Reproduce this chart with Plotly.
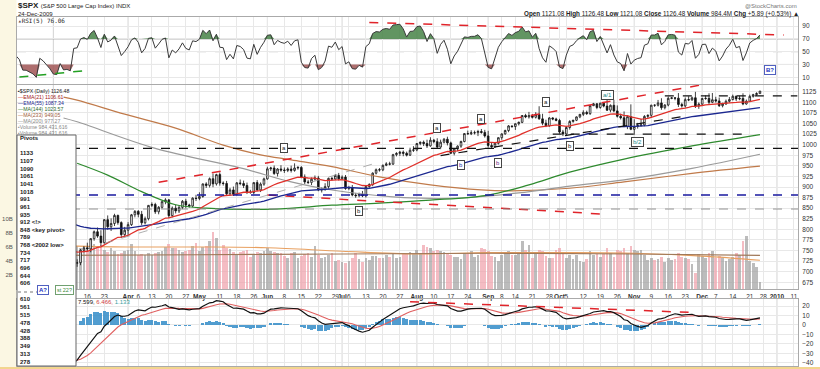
import numpy as np
import pandas as pd
import plotly.graph_objects as go

W, H = 820, 369
ML, MR = 17, 22

HOLIDAYS = ["2009-01-19", "2009-02-16", "2009-04-10", "2009-05-25", "2009-07-03",
            "2009-09-07", "2009-11-26", "2009-12-25", "2010-01-01", "2010-01-18"]

# ---- daily closes 2009 ----
CLOSE_JAN = [931.80, 927.45, 934.70, 906.65, 909.73, 890.35, 870.26, 871.79, 842.62, 843.74,
             850.12, 805.22, 840.24, 827.50, 831.95, 836.57, 845.71, 874.09, 845.14, 825.88]
CLOSE_FEB = [825.44, 838.51, 832.23, 845.85, 868.60, 869.89, 827.16, 833.74, 835.19, 826.84,
             789.17, 788.42, 778.94, 770.05, 743.33, 773.14, 764.90, 752.83, 735.09]
CLOSE_MAR = [700.82, 696.33, 712.87, 682.55, 683.38, 676.53, 719.60, 721.36, 750.74, 756.55,
             753.89, 778.12, 794.35, 784.04, 768.54, 822.92, 806.12, 813.88, 832.86, 815.94,
             787.53, 797.87]
CLOSE_APR = [811.08, 834.38, 842.50, 835.48, 815.55, 825.16, 856.56, 858.73, 841.50, 852.06,
             865.30, 869.60, 832.39, 850.08, 843.55, 851.92, 866.23, 857.51, 855.16, 873.64, 872.81]
CLOSE_MAY = [877.52, 907.24, 903.80, 919.53, 907.39, 929.23, 909.24, 908.35, 883.92, 893.07,
             882.88, 909.71, 908.13, 903.47, 888.33, 887.00, 910.33, 893.06, 906.83, 919.14]
CLOSE_JUN = [942.87, 944.74, 931.76, 942.46, 940.09, 939.14, 942.43, 939.15, 944.89, 946.21,
             923.72, 911.97, 910.71, 918.37, 921.23, 893.04, 895.10, 900.94, 920.26, 918.90,
             927.23, 919.32]
CLOSE_JUL = [923.33, 896.42, 898.72, 881.03, 879.56, 882.68, 879.13, 901.05, 905.84, 932.68,
             940.74, 940.38, 951.13, 954.58, 954.07, 976.29, 979.26, 982.18, 979.62, 975.15,
             986.75, 987.48]
CLOSE_AUG = [1002.63, 1005.65, 1002.72, 997.08, 1010.48, 1007.10, 994.35, 1005.81, 1012.73, 1004.09,
             979.73, 989.67, 996.46, 1007.37, 1026.13, 1025.57, 1028.00, 1028.12, 1030.98, 1028.93,
             1020.62]
CLOSE_SEP = [998.04, 994.75, 1003.24, 1016.40, 1025.39, 1033.37, 1044.14, 1042.73, 1049.34, 1052.63,
             1068.76, 1065.49, 1068.30, 1064.66, 1071.66, 1060.87, 1050.78, 1044.38, 1062.98, 1060.61,
             1057.08]
CLOSE_OCT = [1029.85, 1025.21, 1040.46, 1054.72, 1057.58, 1065.48, 1071.49, 1076.19, 1073.19, 1092.02,
             1096.56, 1087.68, 1097.91, 1091.06, 1081.40, 1092.91, 1079.60, 1066.95, 1063.41, 1042.63,
             1066.11, 1036.19]
CLOSE_NOV = [1042.88, 1045.41, 1046.50, 1066.63, 1069.30, 1093.08, 1093.01, 1098.51, 1087.24, 1093.48,
             1109.30, 1110.32, 1109.80, 1094.90, 1091.38, 1106.24, 1105.65, 1110.63, 1091.49, 1095.63]
CLOSE_DEC = [1108.86, 1109.24, 1099.92, 1105.98, 1103.25, 1091.94, 1095.95, 1102.35, 1106.41, 1114.11,
             1107.93, 1109.18, 1096.08, 1102.47, 1114.05, 1118.02, 1120.59, 1126.48]

# ---- candle wicks (points above body / below body), Mar 2 .. Dec 24 ----
WICK_UP = [8, 10, 12, 7, 9, 6, 2, 8, 3, 4, 12, 1, 3, 10, 14, 1, 10, 12, 4, 2, 3, 8, 6, 2, 3,
           3, 8, 5, 1, 5, 4, 3, 2, 4, 2, 4, 8, 5, 3, 6, 3, 2, 8, 10, 1, 4, 3, 12, 2, 5, 4, 6, 5, 8,
           2, 8, 7, 7, 5, 1, 6, 4, 3, 5, 3, 6, 2, 9, 6, 4, 8, 11, 3, 3, 6, 5, 4, 6, 5, 4, 8, 2, 4,
           3, 6, 4, 5, 4, 6, 5, 4, 8, 2, 3, 2, 3, 4, 2, 4, 5, 2, 3, 3, 4, 4, 6, 9, 1, 2, 4, 9, 7,
           3, 8, 6, 3, 6, 3, 1, 2, 2, 1, 7, 6, 5, 4, 6, 6, 12, 6, 1, 1, 1, 2, 2, 1, 1, 2, 1, 4, 9,
           4, 5, 19, 12, 8, 2, 2, 3, 4, 5, 3, 3, 1, 1, 1, 5, 4, 1, 2, 1, 1, 2, 19, 2, 13, 13, 6, 15,
           1, 29, 17, 6, 14, 3, 2, 1, 2, 7, 11, 2, 4, 2, 2, 12, 4, 5, 8, 3, 14, 4, 2, 7, 12, 16, 7,
           8, 3, 4, 6, 4, 2, 6, 12, 4, 4, 2, 3, 0]
WICK_DN = [12, 9, 8, 14, 17, 10, 5, 8, 6, 5, 6, 8, 5, 4, 8, 3, 7, 10, 6, 5, 8, 6, 12, 3, 6,
           7, 6, 4, 4, 4, 5, 6, 3, 6, 6, 4, 6, 5, 4, 8, 4, 3, 6, 4, 3, 6, 5, 8, 4, 6, 5, 4, 5, 4,
           3, 4, 6, 5, 3, 4, 3, 5, 4, 2, 5, 3, 7, 4, 6, 4, 5, 3, 4, 3, 5, 4, 6, 3, 3, 6, 4, 5, 4,
           2, 4, 3, 3, 4, 3, 5, 4, 3, 4, 3, 4, 3, 4, 3, 2, 3, 2, 4, 6, 7, 3, 2, 4, 3, 4, 6, 5, 2,
           4, 3, 5, 3, 6, 2, 5, 5, 4, 2, 2, 3, 4, 8, 3, 4, 5, 3, 2, 3, 5, 2, 4, 3, 8, 4, 2, 3, 4,
           3, 3, 2, 5, 3, 2, 3, 2, 4, 5, 4, 5, 3, 2, 3, 4, 3, 3, 1, 4, 3, 3, 2, 5, 3, 3, 4, 1, 6,
           2, 13, 5, 3, 3, 4, 6, 4, 3, 5, 4, 3, 2, 5, 6, 4, 4, 3, 2, 5, 7, 2, 3, 5, 2, 4, 3, 4, 2,
           3, 2, 5, 3, 3, 2, 2, 3, 3, 0]

# ---- volume (billions), Mar 2 .. Dec 24 ----
VOLUME_B = [5.8, 6.1, 6.4, 6.6, 6.6, 6.0, 6.3, 6.2, 5.8, 5.9, 5.5, 5.9, 6.4, 6.0, 6.3,
            5.6, 5.3, 5.8, 5.5, 5.0, 5.2, 5.5, 5.6, 6.4, 5.4, 4.9, 5.0, 4.8, 5.2,
            4.8, 5.1, 5.3, 5.5, 6.0, 6.5, 5.8, 5.9, 5.6, 5.3, 5.4, 5.6, 6.2, 6.6, 5.4,
            6.0, 6.1, 6.8, 8.2, 7.3, 5.6, 6.3, 5.9, 5.7, 5.3, 4.9, 5.3, 5.4, 5.6, 4.6,
            4.9, 5.3, 5.2, 5.5, 5.8, 5.5, 5.3, 5.2, 5.1, 4.7, 4.4, 5.1, 5.3, 4.5,
            4.7, 5.0, 5.2, 4.6, 6.2, 4.8, 4.5, 4.6, 4.8, 5.2, 4.0, 4.2, 3.9, 3.7,
            4.0, 4.4, 5.1, 4.3, 3.9, 4.5, 4.1, 4.7, 4.7, 4.5, 4.5, 4.9, 4.6, 5.0, 4.4,
            4.6, 5.2, 5.0, 5.3, 5.0, 5.6, 5.2, 6.3, 6.0, 5.8, 5.4, 5.6, 5.5, 5.3, 5.0,
            4.9, 4.6, 4.6, 4.3, 5.1, 5.0, 5.4, 4.6, 4.9, 5.8, 5.7, 5.4, 4.7, 4.6, 4.0,
            4.8, 5.2, 5.4, 4.9, 4.9, 5.1, 6.8, 5.6, 6.3, 4.4, 5.2, 5.6, 5.4, 4.7,
            4.4, 4.4, 5.6, 5.8, 5.2, 4.5, 4.8, 4.3, 4.8, 4.0, 3.9, 4.3, 5.4, 4.9, 5.0,
            4.6, 5.0, 5.8, 5.2, 4.6, 5.6, 5.5, 5.8, 5.2, 6.1, 5.6, 5.5, 5.6, 4.9, 4.2,
            4.4, 4.2, 4.3, 4.6, 3.8, 4.5, 4.2, 4.3, 5.2, 4.6, 4.4, 4.3, 3.6, 2.3,
            5.0, 4.7, 4.5, 5.1, 5.4, 4.4, 4.7, 4.5, 4.0, 4.3, 4.6, 5.1, 4.9, 6.8, 7.5,
            4.0, 3.7, 3.2, 0.98]

# ---- moving averages (date, value) ----
MA233_PTS = [("2009-03-05", 1112), ("2009-03-11", 1105), ("2009-03-31", 1072), ("2009-04-22", 1039),
             ("2009-05-12", 999), ("2009-05-28", 976), ("2009-06-10", 964), ("2009-06-26", 948),
             ("2009-07-17", 924), ("2009-08-07", 905), ("2009-08-28", 893), ("2009-09-11", 891),
             ("2009-10-06", 897), ("2009-10-28", 912), ("2009-11-25", 932), ("2009-12-24", 949.05)]
MA200_PTS = [("2009-03-05", 1063), ("2009-03-11", 1054), ("2009-04-14", 991), ("2009-05-19", 945),
             ("2009-06-10", 912), ("2009-06-26", 893), ("2009-07-24", 876), ("2009-08-07", 873),
             ("2009-08-20", 874), ("2009-09-15", 886), ("2009-10-06", 902), ("2009-10-28", 917),
             ("2009-11-25", 944), ("2009-12-24", 977.27)]
MA144_PTS = [("2009-03-11", 956), ("2009-03-24", 928), ("2009-04-07", 889), ("2009-04-22", 858),
             ("2009-05-05", 850), ("2009-06-03", 848), ("2009-06-26", 857), ("2009-07-17", 862),
             ("2009-08-07", 869), ("2009-09-01", 881), ("2009-09-18", 905), ("2009-10-06", 935),
             ("2009-10-28", 966), ("2009-11-25", 997), ("2009-12-24", 1023.57)]
VOLMA_FAST_PTS = [("2009-03-02", 6.2), ("2009-04-01", 6.0), ("2009-05-01", 6.0), ("2009-06-01", 5.9),
                  ("2009-07-01", 5.4), ("2009-08-03", 5.0), ("2009-09-01", 5.2), ("2009-10-01", 5.2),
                  ("2009-11-02", 5.1), ("2009-12-01", 4.7), ("2009-12-24", 4.1)]
VOLMA_SLOW_PTS = [("2009-03-02", 4.8), ("2009-05-01", 4.9), ("2009-07-01", 5.0), ("2009-09-01", 5.1),
                  ("2009-11-02", 5.0), ("2009-12-24", 4.8)]

# ---- hand-drawn annotation lines (date, value) ----
PRICE_LINES = [  # (start, end, color, dash, width)
    (("2009-04-15", 911), ("2009-12-09", 1150), "#e0242a", "dash", 1.5),
    (("2009-06-01", 881), ("2009-10-20", 836), "#e0242a", "dash", 1.5),
    (("2009-03-23", 767), ("2009-07-17", 959), "#9a9a9a", "dash", 0.8),
    (("2009-08-12", 974), ("2009-11-20", 1066), "#111111", "dash", 1.2),
    (("2009-09-29", 1025), ("2009-12-17", 1025), "#111111", "dash", 1.2),
    (("2009-11-13", 1115), ("2010-01-12", 1115), "#111111", "dash", 1.2),
]
PRICE_HLINES = [(991, "#111111", 1.3), (881, "#1a1aa0", 1.5), (848, "#888888", 0.9)]
RSI_LINES = [(("2009-07-14", 95.7), ("2010-01-06", 76.1), "#e0242a"),
             (("2009-02-13", 10.4), ("2009-03-16", 20.6), "#22a022")]
MACD_LINES = [(("2009-07-30", 24.6), ("2009-11-24", 13.4), "#e0242a")]
LABELS = [("2009-06-08", 993, "a", "#222"), ("2009-08-11", 1040, "a", "#222"),
          ("2009-08-28", 1061, "a", "#222"), ("2009-09-25", 1100, "a", "#222"),
          ("2009-10-21", 1117, "a/1", "#1a8a8a"), ("2009-08-20", 952, "b", "#2a2aa0"),
          ("2009-09-04", 956, "b", "#6a2a8a"), ("2009-07-09", 843, "b", "#222"),
          ("2009-10-06", 997, "b", "#222"), ("2009-11-03", 1007, "b/2", "#1a8a8a")]

PIVOTS_TOP = ["1133", "1107", "1090", "1061", "1041", "1018", "991", "961", "935", "912 &lt;!&gt;",
              "848 &lt;key pivot&gt;", "789", "768 &lt;2002 low&gt;", "734", "717", "696", "644", "606"]
PIVOTS_BOTTOM = ["610", "561", "515", "478", "428", "388", "349", "313", "278"]

TICKS = [("2009-03-16", "16"), ("2009-03-23", "23"), ("2009-04-01", "<b>Apr</b>"), ("2009-04-06", "6"),
         ("2009-04-13", "13"), ("2009-04-20", "20"), ("2009-04-27", "27"), ("2009-05-01", "<b>May</b>"),
         ("2009-05-11", "11"), ("2009-05-18", "18"), ("2009-05-26", "26"), ("2009-06-01", "<b>Jun</b>"),
         ("2009-06-08", "8"), ("2009-06-15", "15"), ("2009-06-22", "22"), ("2009-06-29", "29"),
         ("2009-07-01", "<b>Jul</b>"), ("2009-07-06", "6"), ("2009-07-13", "13"), ("2009-07-20", "20"),
         ("2009-07-27", "27"), ("2009-08-03", "<b>Aug</b>"), ("2009-08-10", "10"), ("2009-08-17", "17"),
         ("2009-08-24", "24"), ("2009-09-01", "<b>Sep</b>"), ("2009-09-08", "8"), ("2009-09-14", "14"),
         ("2009-09-21", "21"), ("2009-09-28", "28"), ("2009-10-01", "<b>Oct</b>"), ("2009-10-05", "5"),
         ("2009-10-12", "12"), ("2009-10-19", "19"), ("2009-10-26", "26"), ("2009-11-02", "<b>Nov</b>"),
         ("2009-11-09", "9"), ("2009-11-16", "16"), ("2009-11-23", "23"), ("2009-12-01", "<b>Dec</b>"),
         ("2009-12-07", "7"), ("2009-12-14", "14"), ("2009-12-21", "21"), ("2009-12-28", "28"),
         ("2010-01-04", "<b>2010</b>"), ("2010-01-11", "11")]
MONTH_STARTS = ["2009-03-02", "2009-04-01", "2009-05-01", "2009-06-01", "2009-07-01", "2009-08-03",
                "2009-09-01", "2009-10-01", "2009-11-02", "2009-12-01", "2010-01-04"]

# ------------------------------------------------------------------
trading = [d for d in pd.bdate_range("2009-01-02", "2010-01-29")
           if d.strftime("%Y-%m-%d") not in HOLIDAYS]
IDX = {d.strftime("%Y-%m-%d"): i for i, d in enumerate(trading)}
def xi(s):
    return IDX[s]

CLOSE = np.array(CLOSE_JAN + CLOSE_FEB + CLOSE_MAR + CLOSE_APR + CLOSE_MAY + CLOSE_JUN +
                 CLOSE_JUL + CLOSE_AUG + CLOSE_SEP + CLOSE_OCT + CLOSE_NOV + CLOSE_DEC)
N = len(CLOSE)
X = np.arange(N)
C0 = xi("2009-03-02")
assert N - C0 == len(WICK_UP) == len(WICK_DN) == len(VOLUME_B)

def ema(v, n):
    a = 2.0 / (n + 1)
    out = [v[0]]
    for x in v[1:]:
        out.append(out[-1] + a * (x - out[-1]))
    return np.array(out)

def rsi(v, n=5):
    d = np.diff(v)
    g = np.clip(d, 0, None)
    l = np.clip(-d, 0, None)
    ag, al = g[:n].mean(), l[:n].mean()
    out = np.full(len(v), np.nan)
    for i in range(n, len(d)):
        ag = (ag * (n - 1) + g[i]) / n
        al = (al * (n - 1) + l[i]) / n
        out[i + 1] = 100 - 100 / (1 + ag / al) if al > 0 else 100
    return out

EMA21 = ema(CLOSE, 21)
EMA55 = ema(CLOSE, 55)
RSI5 = rsi(CLOSE, 5)
MACD = ema(CLOSE, 12) - ema(CLOSE, 26)
SIG = ema(MACD, 9)
HIST = MACD - SIG

XL = xi("2009-03-16") - 20.7
XR = XL + 229.9
VIS0 = xi("2009-02-09")

def px_x(x):  # figure pixel -> paper (plot-area) fraction
    return (x - ML) / (W - ML - MR)
def px_y(y):
    return 1 - y / H

D_RSI = [px_y(84), px_y(17)]
D_PRICE = [px_y(289), px_y(85)]
D_MACD = [px_y(366), px_y(299)]

fig = go.Figure()

# ---------------- RSI ----------------
xr = X[VIS0:]
r = RSI5[VIS0:]
fig.add_trace(go.Scatter(x=xr, y=np.full(len(xr), 70.0), mode="lines", line=dict(width=0),
                         hoverinfo="skip", xaxis="x", yaxis="y"))
fig.add_trace(go.Scatter(x=xr, y=np.maximum(r, 70), mode="lines", line=dict(width=0), fill="tonexty",
                         fillcolor="rgba(70,130,70,0.85)", hoverinfo="skip", xaxis="x", yaxis="y"))
fig.add_trace(go.Scatter(x=xr, y=np.full(len(xr), 30.0), mode="lines", line=dict(width=0),
                         hoverinfo="skip", xaxis="x", yaxis="y"))
fig.add_trace(go.Scatter(x=xr, y=np.minimum(r, 30), mode="lines", line=dict(width=0), fill="tonexty",
                         fillcolor="rgba(160,85,85,0.85)", hoverinfo="skip", xaxis="x", yaxis="y"))
fig.add_trace(go.Scatter(x=xr, y=r, mode="lines", line=dict(color="#3a3a3a", width=1),
                         xaxis="x", yaxis="y"))

# ---------------- Volume ----------------
xv = X[C0:]
vcol = ["rgba(240,160,170,0.7)" if CLOSE[i] < CLOSE[i - 1] else "rgba(160,160,160,0.7)" for i in xv]
fig.add_trace(go.Bar(x=xv, y=VOLUME_B, marker=dict(color=vcol, line=dict(width=0)), width=0.8,
                     xaxis="x2", yaxis="y2"))
for pts, col in [(VOLMA_FAST_PTS, "#e8a060"), (VOLMA_SLOW_PTS, "#a07858")]:
    fig.add_trace(go.Scatter(x=[xi(d) for d, _ in pts], y=[v for _, v in pts], mode="lines",
                             line=dict(color=col, width=1.1, shape="spline"), xaxis="x2", yaxis="y2"))

# ---------------- Price ----------------
for pts, col in [(MA233_PTS, "#c07a4a"), (MA200_PTS, "#9a9a9a"), (MA144_PTS, "#2e8a2e")]:
    fig.add_trace(go.Scatter(x=[xi(d) for d, _ in pts], y=[v for _, v in pts], mode="lines",
                             line=dict(color=col, width=1.2, shape="spline"), xaxis="x2", yaxis="y3"))
fig.add_trace(go.Scatter(x=X[VIS0:], y=EMA55[VIS0:], mode="lines", line=dict(color="#1c2890", width=1.3),
                         xaxis="x2", yaxis="y3"))
fig.add_trace(go.Scatter(x=X[VIS0:], y=EMA21[VIS0:], mode="lines", line=dict(color="#e0302a", width=1.3),
                         xaxis="x2", yaxis="y3"))

opn = CLOSE[C0 - 1:N - 1]
cls = CLOSE[C0:]
hi = np.maximum(opn, cls) + np.array(WICK_UP)
lo = np.minimum(opn, cls) - np.array(WICK_DN)
fig.add_trace(go.Candlestick(x=xv, open=opn, high=hi, low=lo, close=cls,
                             increasing=dict(line=dict(color="#111", width=0.8), fillcolor="white"),
                             decreasing=dict(line=dict(color="#111", width=0.8), fillcolor="#111"),
                             whiskerwidth=0, xaxis="x2", yaxis="y3"))

# ---------------- MACD ----------------
fig.add_trace(go.Bar(x=X[VIS0:], y=HIST[VIS0:], marker=dict(color="rgba(50,140,200,0.85)", line=dict(width=0)),
                     width=0.9, xaxis="x3", yaxis="y4"))
fig.add_trace(go.Scatter(x=X[VIS0:], y=SIG[VIS0:], mode="lines", line=dict(color="#e06060", width=1.1),
                         xaxis="x3", yaxis="y4"))
fig.add_trace(go.Scatter(x=X[VIS0:], y=MACD[VIS0:], mode="lines", line=dict(color="#111", width=1.2),
                         xaxis="x3", yaxis="y4"))

# ---------------- shapes ----------------
shapes = []
# page strips (left cream margin, bottom border)
shapes.append(dict(type="rect", xref="paper", yref="paper", x0=px_x(0), x1=px_x(16.5),
                   y0=0, y1=1, fillcolor="#fbf7e3", line=dict(width=0), layer="below"))
shapes.append(dict(type="rect", xref="paper", yref="paper", x0=px_x(0), x1=px_x(W),
                   y0=px_y(369), y1=px_y(367), fillcolor="#f2d58e", line=dict(width=0), layer="above"))
# month gridlines (slightly darker)
for xa, ya in [("x", "y"), ("x2", "y2"), ("x3", "y4")]:
    for d in MONTH_STARTS:
        shapes.append(dict(type="line", xref=xa, yref=f"{ya} domain", x0=xi(d), x1=xi(d), y0=0, y1=1,
                           line=dict(color="#d2d2d2", width=1), layer="below"))
for (a, b, col, dash, wdt) in PRICE_LINES:
    shapes.append(dict(type="line", xref="x2", yref="y3", x0=xi(a[0]), y0=a[1], x1=xi(b[0]), y1=b[1],
                       line=dict(color=col, dash=dash, width=wdt)))
for (v, col, wdt) in PRICE_HLINES:
    shapes.append(dict(type="line", xref="x2 domain", yref="y3", x0=0, x1=1, y0=v, y1=v,
                       line=dict(color=col, dash="dash", width=wdt)))
for (a, b, col) in RSI_LINES:
    shapes.append(dict(type="line", xref="x", yref="y", x0=xi(a[0]), y0=a[1], x1=xi(b[0]), y1=b[1],
                       line=dict(color=col, dash="dash", width=1.5)))
for (a, b, col) in MACD_LINES:
    shapes.append(dict(type="line", xref="x3", yref="y4", x0=xi(a[0]), y0=a[1], x1=xi(b[0]), y1=b[1],
                       line=dict(color=col, dash="dash", width=1.5)))
for v, dash, col in [(70, "solid", "#9a9a9a"), (30, "solid", "#9a9a9a"), (50, "dash", "#b0b0b0")]:
    shapes.append(dict(type="line", xref="x domain", yref="y", x0=0, x1=1, y0=v, y1=v,
                       line=dict(color=col, dash=dash, width=1), layer="below"))
# pivot box
shapes.append(dict(type="rect", xref="paper", yref="paper", x0=px_x(17), x1=px_x(76),
                   y0=px_y(366), y1=px_y(135), fillcolor="white", line=dict(color="#666", width=1),
                   layer="above"))
shapes.append(dict(type="line", xref="paper", yref="paper", x0=px_x(18), x1=px_x(37),
                   y0=px_y(292), y1=px_y(292), line=dict(color="#777", width=1, dash="dot"),
                   layer="above"))

# ---------------- annotations ----------------
ann = []
def txt(x, y, s, size=6, color="#222", anchor="left", family="Liberation Sans", **kw):
    ann.append(dict(xref="paper", yref="paper", x=px_x(x), y=px_y(y), text=s, showarrow=False,
                    xanchor=anchor, yanchor="middle", font=dict(size=size, color=color, family=family), **kw))

txt(16, 6, "<b>$SPX</b> <span style='font-size:6px'>(S&P 500 Large Cap Index) INDX</span>", size=8)
txt(16, 13.5, "24-Dec-2009", size=6)
txt(16, 21, "<span style='color:#444'>▴</span>RSI(5) 76.06", size=6, family="DejaVu Sans Mono")
txt(799, 5.5, "@StockCharts.com", size=6, color="#777", anchor="right")
txt(801, 13.5, "<b>Open</b> 1121.08 <b>High</b> 1126.48 <b>Low</b> 1121.08 <b>Close</b> 1126.48 "
    "<b>Volume</b> 984.4M <b>Chg</b> +5.89 (+0.53%) ▲", size=6.3, anchor="right")

LEG = [("▪$SPX (Daily) 1126.48", "#222", "#222"), ("—EMA(21) 1106.61", "#e0302a", "#a02020"),
       ("—EMA(55) 1087.34", "#1c2890", "#1c2890"), ("—MA(144) 1023.57", "#2e8a2e", "#2e6a2e"),
       ("—MA(233) 949.05", "#c07a4a", "#a0603a"), ("—MA(200) 977.27", "#9a9a9a", "#888"),
       ("▪Volume 984,431,616", "#999", "#888"), ("▪Volume 984,431,616", "#999", "#888")]
for k, (s, mc, tc) in enumerate(LEG):
    y = 91 + k * 6
    txt(16, y, f"<span style='color:{mc}'>{s[0]}</span>{s[1:]}", size=5.2, color=tc)

txt(18, 138, "<b>Pivots</b>", size=6)
for k, s in enumerate(PIVOTS_TOP):
    txt(18, 153.3 + k * 7.65, f"<b>{s}</b>", size=6)
for k, s in enumerate(PIVOTS_BOTTOM):
    txt(18, 299.3 + k * 7.8, f"<b>{s}</b>", size=6)
txt(43, 290, "<b>A?</b>", size=6, color="#2030c0", anchor="center", bgcolor="white",
    bordercolor="#5060c0", borderwidth=1, borderpad=1)
txt(64, 290, "st 22?", size=5.5, color="#3a8a3a", anchor="center", bgcolor="white",
    bordercolor="#70a070", borderwidth=1, borderpad=1)

txt(76, 301.5, "<span style='color:#111'>7.599,</span> <span style='color:#d04040'>6.466,</span> "
    "<span style='color:#3aa0a0'>1.133</span>", size=6)

for d, v, s, col in LABELS:
    ann.append(dict(xref="x2", yref="y3", x=xi(d), y=v, text=s, showarrow=False,
                    font=dict(size=6, color=col, family="Liberation Sans"), bgcolor="white",
                    bordercolor="#444", borderwidth=1, borderpad=1))
ann.append(dict(xref="x", yref="y", x=xi("2009-12-30"), y=22, text="<b>B?</b>", showarrow=False,
                font=dict(size=6, color="#2030c0", family="Liberation Sans"), bgcolor="white",
                bordercolor="#5060c0", borderwidth=1, borderpad=1))

# ---------------- axes ----------------
tv = [xi(d) for d, _ in TICKS]
tt = [t for _, t in TICKS]
GRID = "#e8e8e8"
AX = dict(range=[XL, XR], tickvals=tv, ticktext=tt, showgrid=True, gridcolor=GRID, gridwidth=1,
          zeroline=False, showline=True, linecolor="#aaa", mirror=True, ticks="", ticklen=0,
          tickangle=0)
TF = dict(size=6.5, color="#333", family="Liberation Sans")
YR = dict(ticks="", ticklen=0, ticklabelstandoff=2)

fig.update_layout(
    width=W, height=H, margin=dict(l=ML, r=MR, t=0, b=0),
    paper_bgcolor="white", plot_bgcolor="white", showlegend=False, bargap=0,
    xaxis=dict(**AX, domain=[0, 1], anchor="y", showticklabels=False),
    yaxis=dict(domain=D_RSI, range=[-0.5, 104.2], side="right", tickvals=[10, 30, 50, 70, 90],
               showgrid=True, gridcolor=GRID, zeroline=False, showline=True, linecolor="#aaa",
               mirror=True, tickfont=TF, **YR),
    xaxis2=dict(**AX, domain=[0, 1], anchor="y2", showticklabels=True, tickfont=TF,
                rangeslider=dict(visible=False), ticklabelstandoff=1),
    yaxis2=dict(domain=D_PRICE, range=[0, 29.14], side="left", tickvals=[2, 4, 6, 8, 10],
                ticktext=["2B", "4B", "6B", "8B", "10B"], showgrid=False, zeroline=False,
                showline=True, linecolor="#aaa", tickfont=dict(size=6, color="#555", family="Liberation Sans"),
                anchor="x2", **YR),
    yaxis3=dict(overlaying="y2", anchor="x2", side="right", range=[659.2, 1140.8],
                tickvals=list(range(675, 1126, 25)), showgrid=True, gridcolor=GRID, zeroline=False,
                showline=True, linecolor="#aaa", tickfont=TF, **YR),
    xaxis3=dict(**AX, domain=[0, 1], anchor="y4", showticklabels=False),
    yaxis4=dict(domain=D_MACD, range=[-43.4, 27.5], side="right", tickvals=[-40, -30, -20, -10, 0, 10, 20],
                showgrid=True, gridcolor=GRID, zeroline=False, showline=True, linecolor="#aaa",
                mirror=True, tickfont=TF, **YR),
    shapes=shapes, annotations=ann,
)

fig.write_html("out.html", config={"displayModeBar": False},
               post_script="document.body.style.margin='0px';document.body.style.padding='0px';")
